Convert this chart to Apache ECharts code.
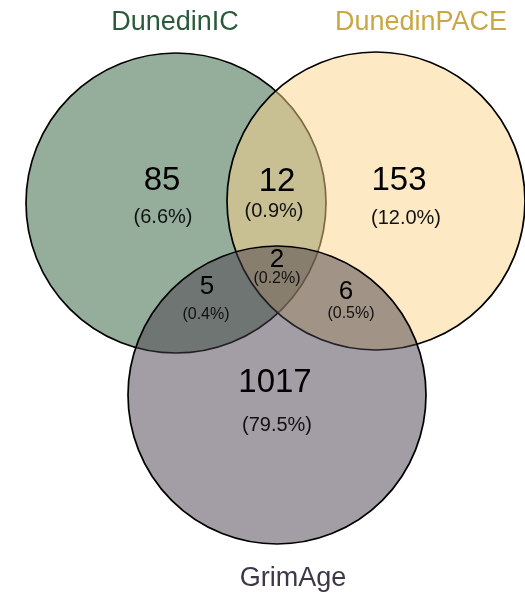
<!DOCTYPE html>
<html><head><meta charset="utf-8">
<script src="https://cdn.jsdelivr.net/npm/echarts@6/dist/echarts.min.js"></script>
<style>html,body{margin:0;padding:0;background:#fff}#c{width:525px;height:597px}</style>
</head><body><div id="c"></div>
<script>
// ---- data ----
const setNames = ['DunedinIC', 'DunedinPACE', 'GrimAge'];
const regionNames = ['DunedinIC only', 'DunedinIC & DunedinPACE', 'DunedinPACE only', 'All three', 'DunedinIC & GrimAge', 'DunedinPACE & GrimAge', 'GrimAge only'];
const regionCounts = [85, 12, 153, 2, 5, 6, 1017];
const regionPercents = ['6.6%', '0.9%', '12.0%', '0.2%', '0.4%', '0.5%', '79.5%'];

// ---- layout (pixel space of a hidden 525 x 597 axis) ----
const circleCenters = [[176, 203], [376, 201], [277, 395]];
const circleRadii = [150, 149, 149];
const circleColors = ['rgba(43,93,58,0.5)', 'rgba(251,211,138,0.5)', 'rgba(72,62,76,0.5)'];
const setLabelColors = ['#2b5a3b', '#c9a745', '#3f3748'];
const setLabelPos = [[175, 23], [421, 23], [293, 579]];
const countPos = [[162, 181], [277, 182], [399, 181], [277, 260], [207, 287], [346, 292], [275, 383]];
const pctPos = [[163, 217], [274, 211], [406, 218], [277, 279], [206, 315], [351, 314], [277, 425]];
const countSize = [33, 33, 33, 26, 26, 26, 33];
const pctSize = [20, 20, 20, 16, 16, 16, 20];

const chart = echarts.init(document.getElementById('c'), null, {renderer: 'canvas'});
const font = 'Liberation Sans, Arial, sans-serif';

chart.setOption({
  animation: false,
  grid: {left: 0, right: 0, top: 0, bottom: 0},
  xAxis: {type: 'value', min: 0, max: 525, show: false},
  yAxis: {type: 'value', min: 0, max: 597, inverse: true, show: false},
  series: [
    {
      type: 'custom',
      coordinateSystem: 'cartesian2d',
      data: setNames.map((n, i) => ({name: n, value: [circleCenters[i][0], circleCenters[i][1], circleRadii[i], i]})),
      renderItem: function (params, api) {
        const c = api.coord([api.value(0), api.value(1)]);
        const r = api.size([api.value(2), 0])[0];
        const i = api.value(3);
        return {
          type: 'circle',
          shape: {cx: c[0], cy: c[1], r: r},
          style: {fill: circleColors[i], stroke: '#000', lineWidth: 1.7}
        };
      },
      z: 1
    },
    {
      type: 'custom',
      coordinateSystem: 'cartesian2d',
      data: setNames.map((n, i) => ({name: n, value: [setLabelPos[i][0], setLabelPos[i][1], i]})),
      renderItem: function (params, api) {
        const c = api.coord([api.value(0), api.value(1)]);
        const i = api.value(2);
        return {
          type: 'text',
          x: c[0], y: c[1],
          style: {text: setNames[i], fill: setLabelColors[i], font: '27px ' + font, align: 'center', verticalAlign: 'middle'}
        };
      },
      z: 3
    },
    {
      type: 'custom',
      coordinateSystem: 'cartesian2d',
      data: regionNames.map((n, i) => ({name: n, value: [countPos[i][0], countPos[i][1], regionCounts[i], i]})),
      renderItem: function (params, api) {
        const c = api.coord([api.value(0), api.value(1)]);
        const i = api.value(3);
        const p = api.coord([pctPos[i][0], pctPos[i][1]]);
        return {
          type: 'group',
          children: [
            {type: 'text', x: c[0], y: c[1],
             style: {text: String(regionCounts[i]), fill: '#000', font: countSize[i] + 'px ' + font, align: 'center', verticalAlign: 'middle'}},
            {type: 'text', x: p[0], y: p[1],
             style: {text: '(' + regionPercents[i] + ')', fill: '#111', font: pctSize[i] + 'px ' + font, align: 'center', verticalAlign: 'middle'}}
          ]
        };
      },
      z: 4
    }
  ]
});
</script>
</body></html>
